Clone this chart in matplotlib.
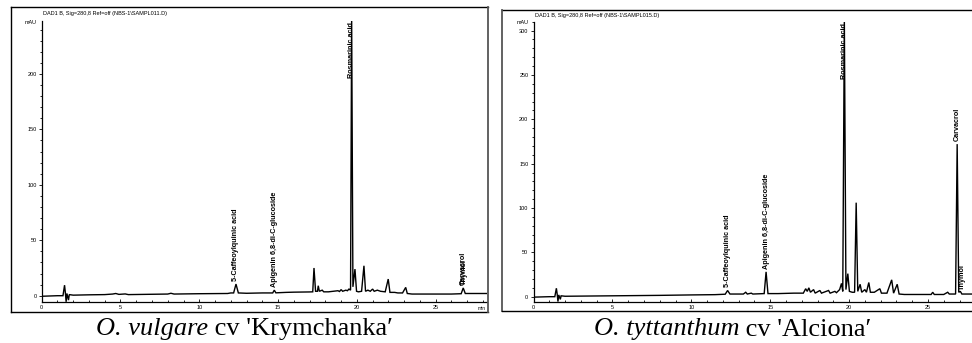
import matplotlib
matplotlib.use("Agg")
import matplotlib.pyplot as plt
from matplotlib.lines import Line2D
from matplotlib.ticker import MultipleLocator

# ---------------- data ----------------
# Panel A: O. vulgare cv 'Krymchanka'  (time in min, signal in mAU)
a_time = [0.0, 1.0, 1.35, 1.45, 1.5, 1.55, 1.6, 1.7, 1.75, 2.0, 3.0, 4.0, 4.5, 4.7, 4.9,
          5.3, 5.5, 6.5, 8.0, 8.2, 8.4, 10.0, 11.8, 12.0, 12.18, 12.33, 12.48, 13.0, 14.0,
          14.66, 14.76, 14.86, 15.5, 16.0, 17.0, 17.2, 17.28, 17.38, 17.5, 17.55, 17.62,
          17.8, 17.9, 18.2, 18.5, 18.8, 18.9, 19.0, 19.1, 19.3, 19.4, 19.5, 19.6, 19.67,
          19.75, 19.88, 19.98, 20.1, 20.3, 20.45, 20.55, 20.7, 20.85, 21.0, 21.1, 21.3,
          21.5, 21.8, 21.99, 22.1, 22.4, 22.6, 22.9, 23.1, 23.2, 23.5, 25.0, 26.0, 26.62,
          26.75, 26.88, 27.0, 28.3]
a_mau = [-0.5, 0.0, 0.0, 9.5, 3.0, -5.5, 2.0, -4.0, 1.0, 0.5, 0.8, 1.0, 1.5, 2.0, 1.2,
         1.6, 1.0, 1.2, 1.5, 2.2, 1.5, 1.8, 2.0, 2.5, 2.5, 10.5, 2.5, 2.2, 2.5,
         2.5, 5.0, 2.6, 3.0, 3.2, 3.4, 3.5, 25.0, 4.0, 4.0, 9.0, 4.0,
         5.0, 3.5, 3.5, 4.0, 4.5, 3.8, 5.5, 4.0, 5.0, 4.5, 6.0, 5.0, 250.0,
         8.0, 24.0, 4.0, 3.5, 4.0, 27.0, 4.0, 5.0, 4.0, 6.0, 4.0, 5.0,
         4.0, 3.5, 15.0, 3.0, 3.0, 2.5, 2.5, 7.5, 2.0, 1.5, 1.5, 1.5, 1.8,
         7.0, 2.0, 2.0, 2.0]
a_names = ["5-Caffeoylquinic acid", "Apigenin 6,8-di-C-glucoside", "Rosmarinic acid",
           "Carvacrol", "Thymol"]
a_rt = [12.33, 14.76, 19.67, 26.75, 26.80]
a_height = [10.5, 5.0, 250.0, 7.0, 7.0]

# Panel B: O. tyttanthum cv 'Alciona'
b_time = [0.0, 1.0, 1.35, 1.45, 1.5, 1.55, 1.6, 1.7, 1.75, 2.0, 5.0, 8.0, 10.0, 11.5,
          12.15, 12.3, 12.45, 13.3, 13.45, 13.55, 13.8, 13.9, 14.62, 14.74, 14.86, 15.5,
          16.5, 17.1, 17.25, 17.35, 17.45, 17.55, 17.75, 17.85, 18.15, 18.25, 18.7, 18.8,
          19.1, 19.2, 19.4, 19.52, 19.6, 19.7, 19.8, 19.92, 20.02, 20.2, 20.35, 20.45,
          20.55, 20.7, 20.8, 21.0, 21.1, 21.25, 21.35, 21.6, 21.95, 22.05, 22.4, 22.7,
          22.82, 23.05, 23.17, 23.5, 24.5, 25.2, 25.3, 25.4, 26.0, 26.25, 26.35, 26.75,
          26.85, 26.95, 27.05, 27.15, 27.9]
b_mau = [-0.5, 0.0, 0.0, 9.5, 3.0, -5.5, 2.0, -3.0, 1.0, 0.5, 1.0, 1.5, 2.0, 2.3,
         2.8, 7.0, 3.0, 3.0, 5.0, 3.0, 4.0, 3.0, 3.5, 28.0, 3.5, 3.5,
         4.0, 4.0, 9.0, 6.0, 10.0, 5.0, 8.0, 4.0, 7.0, 4.0, 7.0, 4.0,
         6.0, 4.5, 8.0, 15.0, 6.0, 312.0, 8.0, 26.0, 6.0, 5.0, 5.0, 106.0,
         6.0, 14.0, 5.0, 8.0, 5.0, 16.0, 5.0, 5.0, 9.0, 4.0, 4.0, 19.0,
         4.0, 14.0, 3.0, 2.5, 2.5, 2.5, 5.0, 2.5, 2.5, 5.0, 3.0, 3.0,
         172.0, 5.0, 6.0, 3.0, 3.0]
b_names = ["5-Caffeoylquinic acid", "Apigenin 6,8-di-C-glucoside", "Rosmarinic acid",
           "Carvacrol", "Thymol"]
b_rt = [12.30, 14.74, 19.70, 26.85, 27.15]
b_height = [7.0, 28.0, 312.0, 172.0, 4.0]

a_title = "DAD1 B, Sig=280,8 Ref=off (NBS-1\\SAMPL011.D)"
b_title = "DAD1 B, Sig=280,8 Ref=off (NBS-1\\SAMPL015.D)"
a_caption = ("O. vulgare", " cv 'Krymchanka\u2032")
b_caption = ("O. tyttanthum", " cv 'Alciona\u2032")

# ---------------- figure ----------------
W, H = 972, 343
fig = plt.figure(figsize=(W / 100, H / 100), dpi=100)
SANS = ["Liberation Sans", "DejaVu Sans"]
SERIF = ["Liberation Serif", "DejaVu Serif"]


def px(x, y):
    return x / W, 1 - y / H


def fline(x0, y0, x1, y1, color="black", lw=1.0):
    (a, b), (c, d) = px(x0, y0), px(x1, y1)
    fig.add_artist(Line2D([a, c], [b, d], transform=fig.transFigure, color=color, lw=lw))


# outer frames
fline(10.7, 6.7, 488, 6.7)
fline(10.7, 6.7, 10.7, 311.7)
fline(10.7, 311.7, 488, 311.7)
fline(488, 6.7, 488, 311.7, color="#555555", lw=1.3)
fline(502, 10, 972, 10)
fline(502, 10, 502, 311, color="#555555", lw=1.3)
fline(502, 311, 972, 311)

LABEL_FS = 5.2


def panel(rect_px, t, v, ylim, ymajor, names, rts, heights, title, title_xy, mau_xy,
          xlim, show_min):
    x0, ytop, x1, ybot = rect_px
    l, b = px(x0, ybot)
    r, tp = px(x1, ytop)
    ax = fig.add_axes([l, b, r - l, tp - b])
    ax.plot(t, v, color="black", lw=1.0, solid_joinstyle="miter")
    ax.set_xlim(*xlim)
    ax.set_ylim(*ylim)
    for s in ("top", "right"):
        ax.spines[s].set_visible(False)
    for s in ("left", "bottom"):
        ax.spines[s].set_linewidth(0.9)
    ax.xaxis.set_major_locator(MultipleLocator(5))
    ax.xaxis.set_minor_locator(MultipleLocator(1))
    ax.yaxis.set_minor_locator(MultipleLocator(10))
    ax.set_yticks([y for y in range(0, int(ylim[1]) + 1, ymajor)])
    ax.tick_params(axis="x", which="major", direction="in", length=2.5, width=0.6,
                   labelsize=4, pad=2.5)
    ax.tick_params(axis="x", which="minor", direction="in", length=1.8, width=0.6)
    ax.tick_params(axis="y", which="major", direction="out", length=2.2, width=0.6,
                   labelsize=4, pad=1.5)
    ax.tick_params(axis="y", which="minor", direction="out", length=1.3, width=0.6)
    for lab in ax.get_xticklabels() + ax.get_yticklabels():
        lab.set_family(SANS)
    # peak labels
    for name, rt, h in zip(names, rts, heights):
        if h > 0.75 * ylim[1]:
            ax.text(rt, ylim[1] * 0.995, name, rotation=90, ha="center", va="top",
                    fontsize=LABEL_FS, fontweight="bold", family=SANS)
        else:
            ax.annotate(name, xy=(rt, h), xytext=(0, 2.2), textcoords="offset points",
                        rotation=90, ha="center", va="bottom", fontsize=LABEL_FS,
                        fontweight="bold", family=SANS)
    tx, ty = px(*title_xy)
    fig.text(tx, ty, title, fontsize=4, family=SANS, ha="left", va="center")
    mx, my = px(*mau_xy)
    fig.text(mx, my, "mAU", fontsize=4, family=SANS, ha="right", va="center")
    if show_min:
        nx, ny = px(x1 - 1, ybot + 6.5)
        fig.text(nx, ny, "min", fontsize=3.5, family=SANS, ha="right", va="center")
    return ax


panel((41.7, 20.7, 486.7, 301.7), a_time, a_mau, (-5.4, 248), 50,
      a_names, a_rt, a_height, a_title, (43, 14), (37, 22), (0, 28.24), True)
panel((533.5, 21.7, 972, 301.7), b_time, b_mau, (-5.64, 310), 50,
      b_names, b_rt, b_height, b_title, (535, 15), (529, 22), (0, 27.79), False)


def caption(cx, parts):
    # italic species name followed by roman cultivar, centred at cx
    x, y = px(cx, 335.5)
    t1 = fig.text(0, y, parts[0], fontsize=19, family=SERIF, style="italic",
                  ha="left", va="baseline")
    t2 = fig.text(0, y, parts[1], fontsize=19, family=SERIF, ha="left", va="baseline")
    fig.canvas.draw()
    r = fig.canvas.get_renderer()
    w1 = t1.get_window_extent(r).width / W
    w2 = t2.get_window_extent(r).width / W
    start = x - (w1 + w2) / 2
    t1.set_x(start)
    t2.set_x(start + w1)


caption(244.5, a_caption)
caption(732.5, b_caption)

fig.savefig("out.png", dpi=100)
